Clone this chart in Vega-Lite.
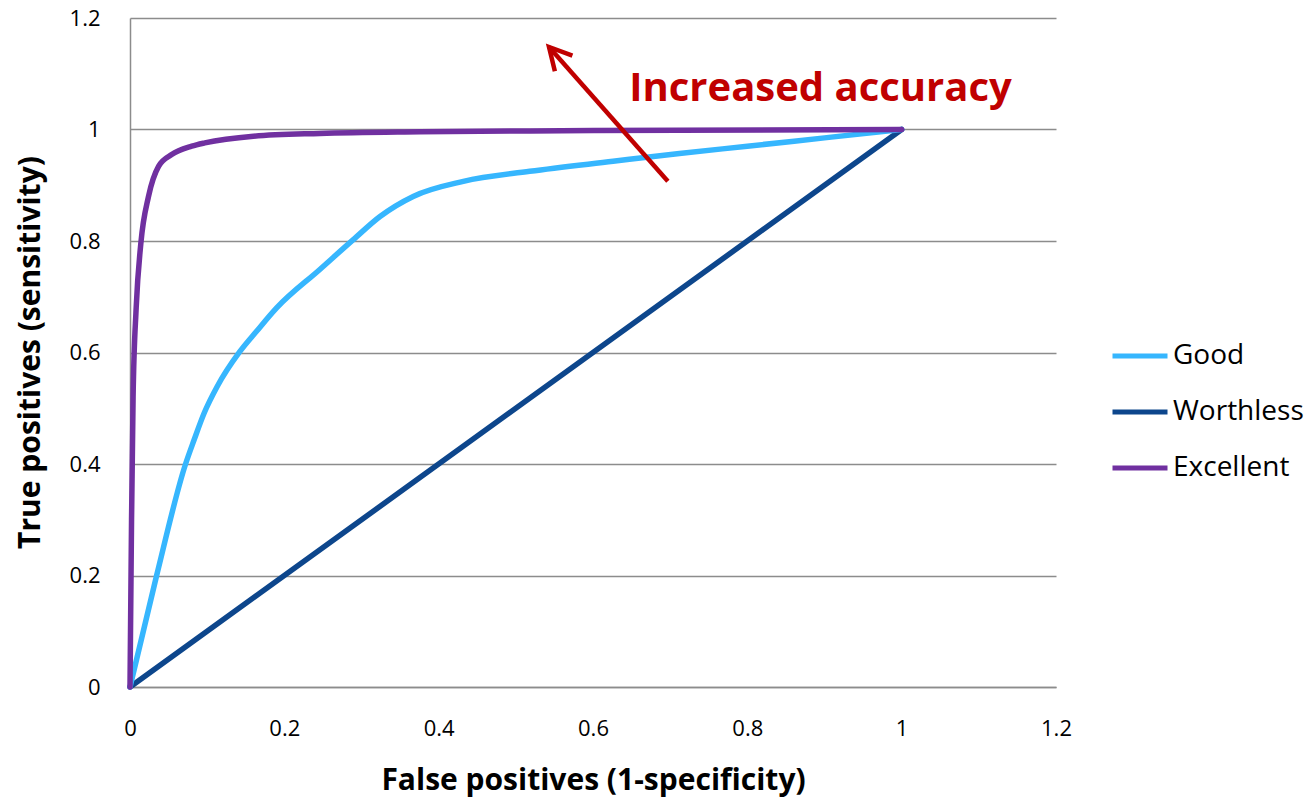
{
  "$schema": "https://vega.github.io/schema/vega-lite/v6.json",
  "width": 926,
  "height": 669,
  "autosize": {"type": "none"},
  "padding": {"left": 130, "top": 18, "right": 257, "bottom": 110},
  "background": "white",
  "config": {
    "view": {"stroke": null},
    "font": "Open Sans",
    "axis": {"labelFont": "Open Sans", "titleFont": "Open Sans"},
    "legend": {"labelFont": "Open Sans"}
  },
  "datasets": {
    "curves": [
      {"series": "Worthless", "fpr": 0, "tpr": 0},
      {"series": "Worthless", "fpr": 1, "tpr": 1},
      {"series": "Good", "fpr": 0, "tpr": 0},
      {"series": "Good", "fpr": 0.0345, "tpr": 0.2},
      {"series": "Good", "fpr": 0.072, "tpr": 0.4},
      {"series": "Good", "fpr": 0.083, "tpr": 0.443},
      {"series": "Good", "fpr": 0.096, "tpr": 0.491},
      {"series": "Good", "fpr": 0.113, "tpr": 0.539},
      {"series": "Good", "fpr": 0.142, "tpr": 0.601},
      {"series": "Good", "fpr": 0.164, "tpr": 0.638},
      {"series": "Good", "fpr": 0.19, "tpr": 0.68},
      {"series": "Good", "fpr": 0.246, "tpr": 0.749},
      {"series": "Good", "fpr": 0.289, "tpr": 0.802},
      {"series": "Good", "fpr": 0.324, "tpr": 0.844},
      {"series": "Good", "fpr": 0.367, "tpr": 0.88},
      {"series": "Good", "fpr": 0.432, "tpr": 0.907},
      {"series": "Good", "fpr": 0.518, "tpr": 0.925},
      {"series": "Good", "fpr": 0.626, "tpr": 0.943},
      {"series": "Good", "fpr": 0.712, "tpr": 0.957},
      {"series": "Good", "fpr": 0.8, "tpr": 0.97},
      {"series": "Good", "fpr": 0.9, "tpr": 0.985},
      {"series": "Good", "fpr": 1, "tpr": 1},
      {"series": "Excellent", "fpr": 0, "tpr": 0},
      {"series": "Excellent", "fpr": 0.002, "tpr": 0.3},
      {"series": "Excellent", "fpr": 0.004, "tpr": 0.52},
      {"series": "Excellent", "fpr": 0.008, "tpr": 0.68},
      {"series": "Excellent", "fpr": 0.014, "tpr": 0.795},
      {"series": "Excellent", "fpr": 0.024, "tpr": 0.88},
      {"series": "Excellent", "fpr": 0.037, "tpr": 0.934},
      {"series": "Excellent", "fpr": 0.054, "tpr": 0.955},
      {"series": "Excellent", "fpr": 0.08, "tpr": 0.97},
      {"series": "Excellent", "fpr": 0.097, "tpr": 0.976},
      {"series": "Excellent", "fpr": 0.16, "tpr": 0.988},
      {"series": "Excellent", "fpr": 0.246, "tpr": 0.993},
      {"series": "Excellent", "fpr": 0.376, "tpr": 0.996},
      {"series": "Excellent", "fpr": 0.6, "tpr": 0.998},
      {"series": "Excellent", "fpr": 1, "tpr": 1}
    ],
    "arrow": [{"fpr": 0.697, "tpr": 0.907, "fpr2": 0.543, "tpr2": 1.148}],
    "head": [{"fpr": 0.543, "tpr": 1.148}],
    "note": [{"fpr": 0.647, "tpr": 1.051, "label": "Increased accuracy"}]
  },
  "layer": [
    {
      "data": {"name": "curves"},
      "mark": {"type": "line", "interpolate": "monotone", "strokeWidth": 5.5, "strokeCap": "round", "strokeJoin": "round"},
      "encoding": {
        "x": {
          "field": "fpr", "type": "quantitative",
          "scale": {"domain": [0, 1.2], "nice": false, "zero": false},
          "axis": {
            "title": "False positives (1-specificity)",
            "values": [0, 0.2, 0.4, 0.6, 0.8, 1, 1.2],
            "format": "~g",
            "grid": false, "ticks": false,
            "domainColor": "#8c8c8c", "domainWidth": 1.5,
            "labelFontSize": 22, "labelColor": "#000000", "labelPadding": 31,
            "labelFlush": false,
            "titleFontSize": 30, "titleFontWeight": "bold", "titleColor": "#000000",
            "titleBaseline": "alphabetic", "titleY": 102, "titleX": 463
          }
        },
        "y": {
          "field": "tpr", "type": "quantitative",
          "scale": {"domain": [0, 1.2], "nice": false, "zero": false},
          "axis": {
            "title": "True positives (sensitivity)",
            "values": [0, 0.2, 0.4, 0.6, 0.8, 1, 1.2],
            "format": "~g",
            "grid": true, "gridColor": "#8c8c8c", "gridWidth": 1.5,
            "ticks": false,
            "domainColor": "#8c8c8c", "domainWidth": 1.5,
            "labelFontSize": 22, "labelColor": "#000000", "labelPadding": 30,
            "labelFlush": false,
            "titleFontSize": 30, "titleFontWeight": "bold", "titleColor": "#000000",
            "titleAngle": -90, "titleBaseline": "alphabetic", "titleAlign": "center",
            "titleX": -91, "titleY": 334
          }
        },
        "color": {
          "field": "series", "type": "nominal",
          "scale": {"domain": ["Good", "Worthless", "Excellent"], "range": ["#36B6FE", "#0D468C", "#7030A0"]},
          "legend": {
            "title": null, "orient": "none", "legendX": 980, "legendY": 308,
            "direction": "vertical",
            "symbolType": "stroke", "symbolSize": 3025, "symbolStrokeWidth": 5,
            "labelFontSize": 28, "labelColor": "#000000", "labelOffset": 3,
            "rowPadding": 12, "padding": 0
          }
        }
      }
    },
    {
      "data": {"name": "arrow"},
      "mark": {"type": "rule", "color": "#C00000", "strokeWidth": 4.5},
      "encoding": {
        "x": {"field": "fpr", "type": "quantitative"},
        "y": {"field": "tpr", "type": "quantitative"},
        "x2": {"field": "fpr2"},
        "y2": {"field": "tpr2"}
      }
    },
    {
      "data": {"name": "head"},
      "mark": {"type": "point", "shape": "M -0.47 0.88 L 0 0 L 0.47 0.88", "angle": -41.7, "size": 2500, "filled": false, "stroke": "#C00000", "strokeWidth": 4.5, "opacity": 1, "strokeJoin": "miter"},
      "encoding": {
        "x": {"field": "fpr", "type": "quantitative"},
        "y": {"field": "tpr", "type": "quantitative"}
      }
    },
    {
      "data": {"name": "note"},
      "mark": {"type": "text", "align": "left", "baseline": "alphabetic", "fontSize": 40, "fontWeight": "bold", "color": "#C00000", "font": "Open Sans"},
      "encoding": {
        "x": {"field": "fpr", "type": "quantitative"},
        "y": {"field": "tpr", "type": "quantitative"},
        "text": {"field": "label"}
      }
    }
  ]
}
